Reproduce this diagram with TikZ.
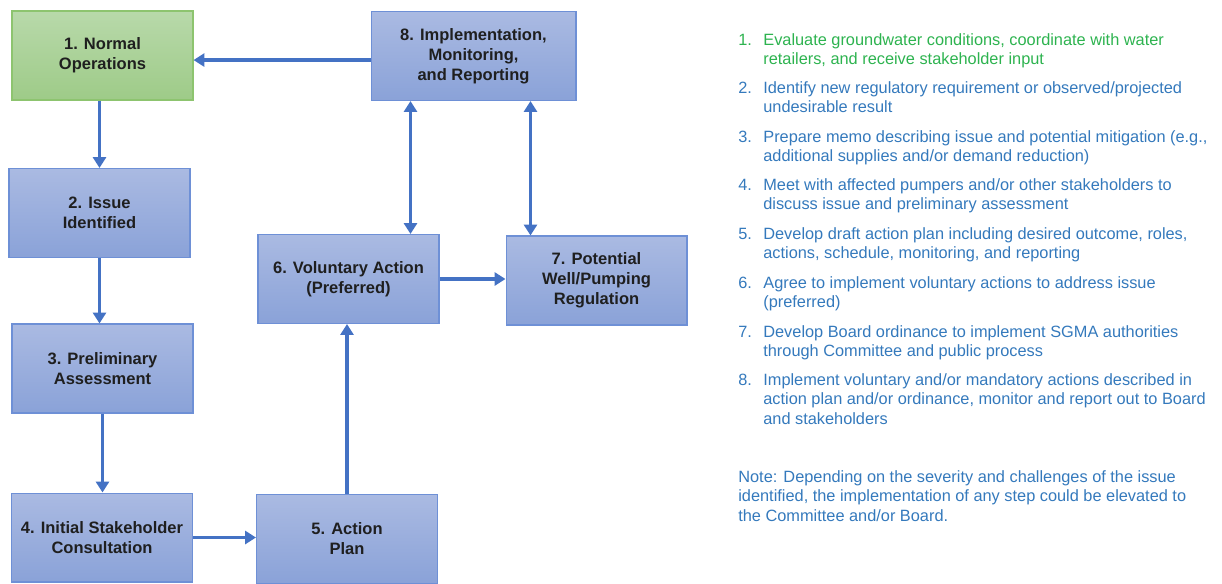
\documentclass[tikz,border=0pt]{standalone}
\usepackage{fontspec}
\setmainfont{Liberation Sans}
\usetikzlibrary{arrows.meta,calc,positioning}
\definecolor{boxtop}{HTML}{AABAE2}
\definecolor{boxbot}{HTML}{8AA2D8}
\definecolor{boxline}{HTML}{6E90D6}
\definecolor{greentop}{HTML}{B8D9AA}
\definecolor{greenbot}{HTML}{9ECB88}
\definecolor{greenline}{HTML}{8DC46F}
\definecolor{flowblue}{HTML}{4472C4}
\definecolor{listgreen}{HTML}{2DB34F}
\definecolor{listblue}{HTML}{3479BC}

\begin{document}
\begin{tikzpicture}[x=0.02cm,y=-0.02cm,
	stage/.style={draw=boxline,line width=0.6pt,top color=boxtop,bottom color=boxbot,
		minimum width=3.62cm,minimum height=1.78cm,align=center,text=black!88,
		font=\fontsize{9.4}{11.3}\selectfont\bfseries},
	startstage/.style={stage,draw=greenline,top color=greentop,bottom color=greenbot},
	flow/.style={draw=flowblue,line width=2pt,-{Triangle[length=6.2pt,width=7.4pt]}},
	twoway/.style={flow,{Triangle[length=6.2pt,width=7.4pt]}-{Triangle[length=6.2pt,width=7.4pt]}},
	listtext/.style={anchor=base west,align=left,inner sep=0pt,
		font=\fontsize{9.3}{11.2}\selectfont}]
	\useasboundingbox (0,0) rectangle (1222,583);
	% process boxes
	\node[startstage] (n1) at (102.5,55.5) {1. Normal\\Operations};
	\node[stage] (n2) at (99.5,213) {2. Issue\\Identified};
	\node[stage] (n3) at (102.5,368.5) {3. Preliminary\\Assessment};
	\node[stage] (n4) at (102,537.5) {4. Initial Stakeholder\\Consultation};
	\node[stage] (n5) at (347,539) {5. Action\\Plan};
	\node[stage] (n6) at (348.5,279) {6. Voluntary Action\\(Preferred)};
	\node[stage] (n7) at (596.5,280.5) {7. Potential\\Well/Pumping\\Regulation};
	\node[stage,minimum width=4.1cm] (n8) at (473.5,56) {8. Implementation,\\Monitoring,\\and Reporting};
	\coordinate (a86) at ($(n8.south west)+(40,0)$);
	\coordinate (a87) at ($(n8.south west)+(160,0)$);
	% connectors
	\draw[flow] ([yshift=-2.3pt]n8.west) -- ([yshift=-2.3pt]n8.west -| n1.east);
	\draw[flow] (n1.south -| n2.north) -- (n2.north);
	\draw[flow] (n2.south) -- (n2.south |- n3.north);
	\draw[flow] (n3.south) -- (n3.south |- n4.north);
	\draw[flow] (n4.east) -- (n4.east -| n5.west);
	\draw[flow] (n5.north) -- (n5.north |- n6.south);
	\draw[flow] (n6.east) -- (n6.east -| n7.west);
	\draw[twoway] (a86) -- (a86 |- n6.north);
	\draw[twoway] (a87) -- (a87 |- n7.north);
	% step descriptions (first and last baseline)
	\foreach \n/\c/\y/\z/\t in {
		1/listgreen/45/64.7/{Evaluate groundwater conditions, coordinate with water\\retailers, and receive stakeholder input},
		2/listblue/93/112.7/{Identify new regulatory requirement or observed/projected\\undesirable result},
		3/listblue/142/161.7/{Prepare memo describing issue and potential mitigation (e.g.,\\additional supplies and/or demand reduction)},
		4/listblue/190/209.7/{Meet with affected pumpers and/or other stakeholders to\\discuss issue and preliminary assessment},
		5/listblue/239/258.7/{Develop draft action plan including desired outcome, roles,\\actions, schedule, monitoring, and reporting},
		6/listblue/288/307.7/{Agree to implement voluntary actions to address issue\\(preferred)},
		7/listblue/337/356.7/{Develop Board ordinance to implement SGMA authorities\\through Committee and public process},
		8/listblue/385/424.4/{Implement voluntary and/or mandatory actions described in\\action plan and/or ordinance, monitor and report out to Board\\and stakeholders}}{
		\node[listtext,text=\c] (num\n) at (738,\y) {\n.};
		\node[listtext,text=\c] (item\n) at (763,\z) {\t};
	}
	\node[listtext,text=listblue] (note) at (738,521.4) {Note: Depending on the severity and challenges of the issue\\identified, the implementation of any step could be elevated to\\the Committee and/or Board.};
\end{tikzpicture}
\end{document}
